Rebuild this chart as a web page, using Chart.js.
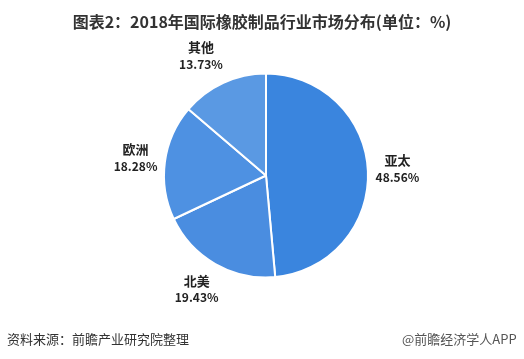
<!DOCTYPE html>
<html>
<head>
<meta charset="utf-8">
<script src="https://cdn.jsdelivr.net/npm/chart.js@4/dist/chart.umd.min.js"></script>
<style>
  html, body { margin: 0; padding: 0; background: #fff; }
  #wrap { position: relative; width: 524px; height: 359px; overflow: hidden; font-family: "Noto Sans CJK SC", sans-serif; }
  #graph { position: absolute; left: 0; top: 0; }
  .title { position: absolute; top: 9px; left: 0; width: 524px; text-align: center; font-size: 16px; font-weight: bold; color: #333; }
  .src { position: absolute; top: 329px; left: 7px; font-size: 13px; color: #333; }
  .app { position: absolute; top: 329px; left: 402px; font-size: 13px; color: #555; white-space: nowrap; }
</style>
</head>
<body>
<div id="wrap">
  <canvas id="graph" width="524" height="359"></canvas>
  <div class="title">图表2：2018年国际橡胶制品行业市场分布(单位：%)</div>
  <div class="src">资料来源：前瞻产业研究院整理</div>
  <div class="app">@前瞻经济学人APP</div>
</div>
<script>
var regions = ['亚太', '北美', '欧洲', '其他'];
var shares = [48.56, 19.43, 18.28, 13.73];
var colors = ['#3a85de', '#4a8de0', '#4e91e2', '#5a99e3'];

// names + percentages placed outside each slice
var slice_labels = {
    id: 'sliceLabels',
    afterDatasetsDraw: function(chart){
        var ctx = chart.ctx;
        var arcs = chart.getDatasetMeta(0).data;
        var nudge = [0, -4, 0, -10];  // small horizontal shifts like the original layout
        ctx.save();
        ctx.textAlign = 'center';
        ctx.textBaseline = 'middle';
        ctx.fillStyle = '#222';
        arcs.forEach(function(arc, i){
            var mid = (arc.startAngle + arc.endAngle) / 2;
            var d = arc.outerRadius * 1.29;
            var x = arc.x + Math.cos(mid) * d + nudge[i];
            var y = arc.y + Math.sin(mid) * d;
            ctx.font = 'bold 13px "Noto Sans CJK SC"';
            ctx.fillText(regions[i], x, y - 9);
            ctx.font = 'bold 12px "Noto Sans CJK SC"';
            ctx.fillText(shares[i].toFixed(2) + '%', x, y + 8);
        });
        ctx.restore();
    }
};

var chart_context = document.getElementById('graph').getContext('2d');
var chart = new Chart(chart_context, {
    type: 'pie',
    data: {
        labels: regions,
        datasets: [{
            data: shares,
            backgroundColor: colors,
            borderColor: '#fff',
            borderWidth: 2
        }]
    },
    options: {
        responsive: false,
        animation: false,
        radius: 102,
        layout: { padding: { left: 164, right: 156, top: 74, bottom: 82 } },
        plugins: {
            legend: { display: false },
            tooltip: { enabled: false }
        }
    },
    plugins: [slice_labels]
});
</script>
</body>
</html>
